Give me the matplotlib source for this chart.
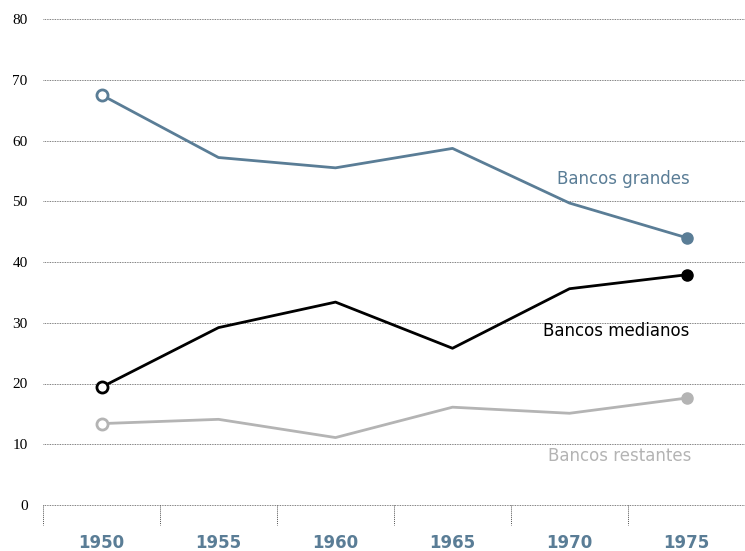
import matplotlib.pyplot as plt

years = ['1950', '1955', '1960', '1965', '1970', '1975']
grandes = [67.5, 57.2, 55.5, 58.7, 49.7, 44.0]
medianos = [19.4, 29.2, 33.4, 25.8, 35.6, 37.9]
restantes = [13.4, 14.1, 11.1, 16.1, 15.1, 17.6]

c_grandes = '#5a7d96'
c_medianos = '#000000'
c_restantes = '#b4b4b4'

fig = plt.figure(figsize=(7.45, 5.51), dpi=100)
ax = fig.add_axes([43/745, 46/551, 702/745, 486/551])

x = list(range(len(years)))
for vals, col in [(grandes, c_grandes), (medianos, c_medianos), (restantes, c_restantes)]:
    ax.plot(x, vals, color=col, lw=2, zorder=3)
    ax.plot(x[0], vals[0], 'o', ms=8, mfc='white', mec=col, mew=2, zorder=4)
    ax.plot(x[-1], vals[-1], 'o', ms=8, color=col, zorder=4)

ax.set_xlim(-0.5, 5.5)
ax.set_ylim(0, 80)
ax.set_yticks(range(0, 81, 10))
ax.grid(axis='y', linestyle=(0, (1, 1)), color='#555555', lw=0.6)
ax.axhline(0, linestyle=(0, (1, 1)), color='#555555', lw=0.6, clip_on=False)
ax.set_axisbelow(True)
for s in ax.spines.values():
    s.set_visible(False)

# dotted band separators below the zero line
edges = [i - 0.5 for i in range(len(years))]
ax.vlines(edges, 0, -0.042, transform=ax.get_xaxis_transform(), colors='#555555',
          linestyles=(0, (1, 1)), lw=0.7, clip_on=False)

ax.set_xticks(x)
ax.set_xticklabels(years, fontsize=12, fontweight='bold', color=c_grandes)
ax.tick_params(axis='x', length=0, pad=21)
ax.tick_params(axis='y', length=0, pad=11)
for lab in ax.get_yticklabels():
    lab.set_fontfamily('Liberation Serif')
    lab.set_fontsize(11)

ax.text(4.46, 53.7, 'Bancos grandes', color=c_grandes, fontsize=12, ha='center', va='center')
ax.text(4.40, 28.7, 'Bancos medianos', color=c_medianos, fontsize=12, ha='center', va='center')
ax.text(4.43, 8.0, 'Bancos restantes', color=c_restantes, fontsize=12, ha='center', va='center')

fig.savefig('out.png', dpi=100)
